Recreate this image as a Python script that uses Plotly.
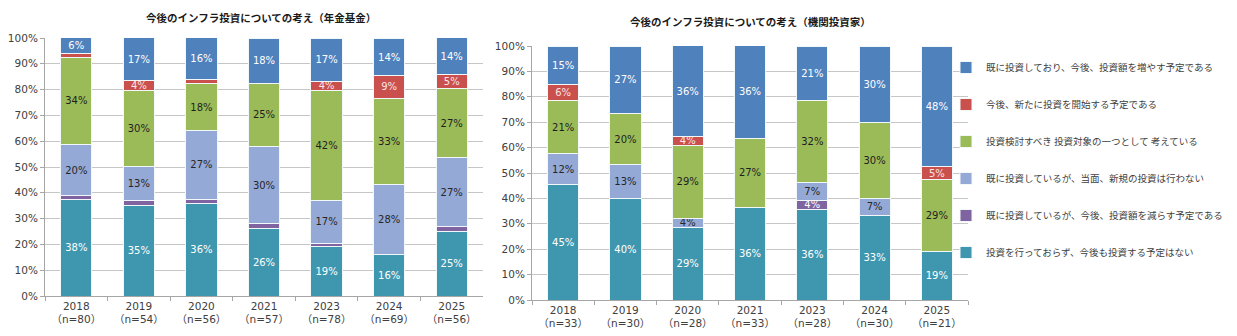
import plotly.graph_objects as go

# ---- data ----
years = ["2018", "2019", "2020", "2021", "2023", "2024", "2025"]
n_pension = [80, 54, 56, 57, 78, 69, 56]
n_inst = [33, 30, 28, 33, 28, 30, 21]

series_names = [
    "投資を行っておらず、今後も投資する予定はない",
    "既に投資しているが、今後、投資額を減らす予定である",
    "既に投資しているが、当面、新規の投資は行わない",
    "投資検討すべき 投資対象の一つとして 考えている",
    "今後、新たに投資を開始する予定である",
    "既に投資しており、今後、投資額を増やす予定である",
]

# 年金基金 (%), bottom -> top
pension_none = [37.5, 35.2, 35.7, 26.3, 19.2, 15.9, 25.0]
pension_reduce = [1.3, 1.9, 1.8, 1.8, 1.3, 0, 1.8]
pension_hold = [20.0, 13.0, 26.8, 29.8, 16.7, 27.5, 26.8]
pension_consider = [33.8, 29.6, 17.9, 24.6, 42.3, 33.3, 26.8]
pension_start = [1.3, 3.7, 1.8, 0, 3.8, 8.7, 5.4]
pension_increase = [6.3, 16.7, 16.1, 17.5, 16.7, 14.4, 14.3]

# 機関投資家 (%), bottom -> top
inst_none = [45.4, 40.0, 28.6, 36.4, 35.7, 33.3, 19.0]
inst_reduce = [0, 0, 0, 0, 3.6, 0, 0]
inst_hold = [12.1, 13.3, 3.6, 0, 7.1, 6.7, 0]
inst_consider = [21.2, 20.0, 28.6, 27.3, 32.1, 30.0, 28.6]
inst_start = [6.1, 0, 3.6, 0, 0, 0, 4.8]
inst_increase = [15.2, 26.7, 35.7, 36.4, 21.4, 30.0, 47.6]

colors = ["#3F97AF", "#8064A2", "#95A9D6", "#9BBB59", "#C9504D", "#4F81BD"]
text_colors = ["#FFFFFF", "#FFFFFF", "#262626", "#1F1F1F", "#FBE4E4", "#FFFFFF"]

pension = [pension_none, pension_reduce, pension_hold, pension_consider, pension_start, pension_increase]
inst = [inst_none, inst_reduce, inst_hold, inst_consider, inst_start, inst_increase]

W, H = 1237, 336


def lbl(v):
    return f"{int(v + 0.5)}%" if v >= 2.5 else ""


def clean(vals):
    return [v if v > 0 else None for v in vals]


x_left = [f"{y}<br>（n={n}）" for y, n in zip(years, n_pension)]
x_right = [f"{y}<br>（n={n}）" for y, n in zip(years, n_inst)]

fig = go.Figure()
for i, name in enumerate(series_names):
    for data, xs, xa, ya, show in [
        (pension, x_left, "x", "y", True),
        (inst, x_right, "x2", "y2", False),
    ]:
        vals = data[i]
        fig.add_trace(go.Bar(
            x=xs, y=clean(vals), name=name, legendgroup=name, showlegend=show,
            legendrank=100 - i,
            xaxis=xa, yaxis=ya,
            marker=dict(color=colors[i], line=dict(color="#F2F8FA", width=1)),
            text=[lbl(v) for v in vals], textposition="inside",
            insidetextanchor="middle", textangle=0, constraintext="none",
            textfont=dict(family="DejaVu Sans", size=10, color=text_colors[i]),
            hoverinfo="skip",
        ))

axis_common = dict(
    showline=True, linecolor="#A6A6A6", linewidth=1, automargin=False,
    tickfont=dict(family="DejaVu Sans, Noto Sans CJK JP", size=10.5, color="#404040"),
)
xcommon = dict(axis_common, type="category", ticks="outside", ticklen=4,
               tickcolor="#A6A6A6", tickson="boundaries", showgrid=False)
ycommon = dict(axis_common, range=[0, 100], dtick=10, ticksuffix="%",
               ticks="outside", ticklen=4, tickcolor="#A6A6A6",
               showgrid=True, gridcolor="#C6C6C6", gridwidth=1, zeroline=False)

fig.update_layout(
    width=W, height=H,
    margin=dict(l=0, r=0, t=0, b=0, autoexpand=False),
    paper_bgcolor="white", plot_bgcolor="white",
    barmode="stack", bargap=0.5,
    uniformtext=dict(minsize=10, mode="show"),
    xaxis=dict(xcommon, domain=[45 / W, 483 / W], anchor="y"),
    yaxis=dict(ycommon, domain=[(H - 296) / H, (H - 38) / H], anchor="x"),
    xaxis2=dict(xcommon, domain=[532 / W, 968 / W], anchor="y2"),
    yaxis2=dict(ycommon, domain=[(H - 300) / H, (H - 46) / H], anchor="x2"),
    showlegend=True,
    legend=dict(
        x=946 / W, y=(H - 53) / H, xanchor="left", yanchor="top",
        traceorder="grouped", tracegroupgap=18,
        font=dict(family="Noto Sans CJK JP", size=9.5, color="#404040"),
        bgcolor="rgba(0,0,0,0)", itemwidth=30,
    ),
    font=dict(family="Noto Sans CJK JP"),
    annotations=[
        dict(text="<b>今後のインフラ投資についての考え（年金基金）</b>",
             x=261 / W, y=(H - 17) / H, xref="paper", yref="paper",
             xanchor="center", yanchor="middle", showarrow=False,
             font=dict(family="Noto Sans CJK JP", size=10.5, color="#1A1A1A")),
        dict(text="<b>今後のインフラ投資についての考え（機関投資家）</b>",
             x=750 / W, y=(H - 22) / H, xref="paper", yref="paper",
             xanchor="center", yanchor="middle", showarrow=False,
             font=dict(family="Noto Sans CJK JP", size=10.5, color="#1A1A1A")),
    ],
)

fig.write_html("out.html")
